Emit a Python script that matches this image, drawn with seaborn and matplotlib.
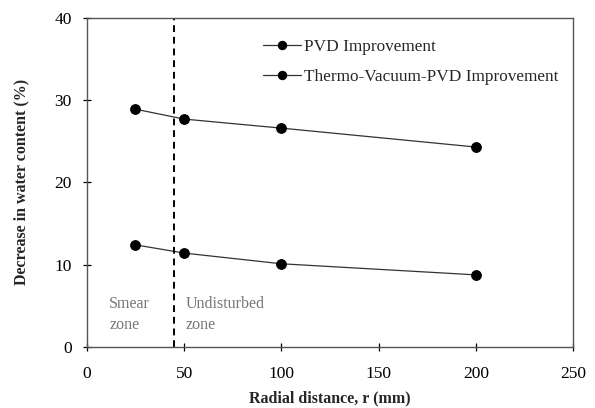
import pandas as pd
import seaborn as sns
import matplotlib.pyplot as plt

radius = [25, 50, 100, 200]
pvd = [12.4, 11.4, 10.1, 8.75]
thermo = [28.9, 27.7, 26.6, 24.3]
series_names = ["PVD Improvement", "Thermo-Vacuum-PVD Improvement"]
zone_boundary = 45

df = pd.DataFrame({
    "r": radius * 2,
    "value": pvd + thermo,
    "series": [series_names[0]] * 4 + [series_names[1]] * 4,
})

sns.set_style("ticks")
plt.rcParams["font.family"] = ["Liberation Serif", "DejaVu Serif"]

fig = plt.figure(figsize=(5.95, 4.08), dpi=100)
ax = fig.add_axes([0.146, 0.150, 0.817, 0.806])

sns.lineplot(data=df, x="r", y="value", hue="series",
             palette=["black", "black"], marker="o", markersize=7,
             linewidth=0.9, markeredgecolor="black", ax=ax)
for line in ax.get_lines():
    line.set_color("#333333")
    line.set_markerfacecolor("black")

ax.axvline(zone_boundary, color="black", linestyle=(0, (3.5, 2.5)), linewidth=1.4)

ax.text(11.5, 3.9, "Smear\nzone", fontsize=11.5, color="#777777", va="center", linespacing=1.45)
ax.text(51, 3.9, "Undisturbed\nzone", fontsize=11.5, color="#777777", va="center", linespacing=1.45)

ax.set_xlim(0, 250)
ax.set_ylim(0, 40)
ax.set_xticks([0, 50, 100, 150, 200, 250])
ax.set_yticks([0, 10, 20, 30, 40])
ax.tick_params(direction="inout", length=6, width=0.9, labelsize=12.5, colors="black")
ax.tick_params(axis="x", pad=11)
ax.tick_params(axis="y", pad=8)
for s in ax.spines.values():
    s.set_color("#555555")
    s.set_linewidth(1.0)

ax.set_xlabel("Radial distance, r (mm)", fontsize=11.5, fontweight="bold", labelpad=6)
ax.set_ylabel("Decrease in water content (%)", fontsize=11.5, fontweight="bold", labelpad=18)

leg = ax.legend(loc="upper left", bbox_to_anchor=(0.362, 0.936), frameon=False,
                fontsize=12.4, handlelength=2.2, handletextpad=0.2, labelspacing=0.8,
                borderpad=0, borderaxespad=0)
for h in leg.get_lines():
    h.set_markersize(6)

fig.savefig("out.png", dpi=100)
